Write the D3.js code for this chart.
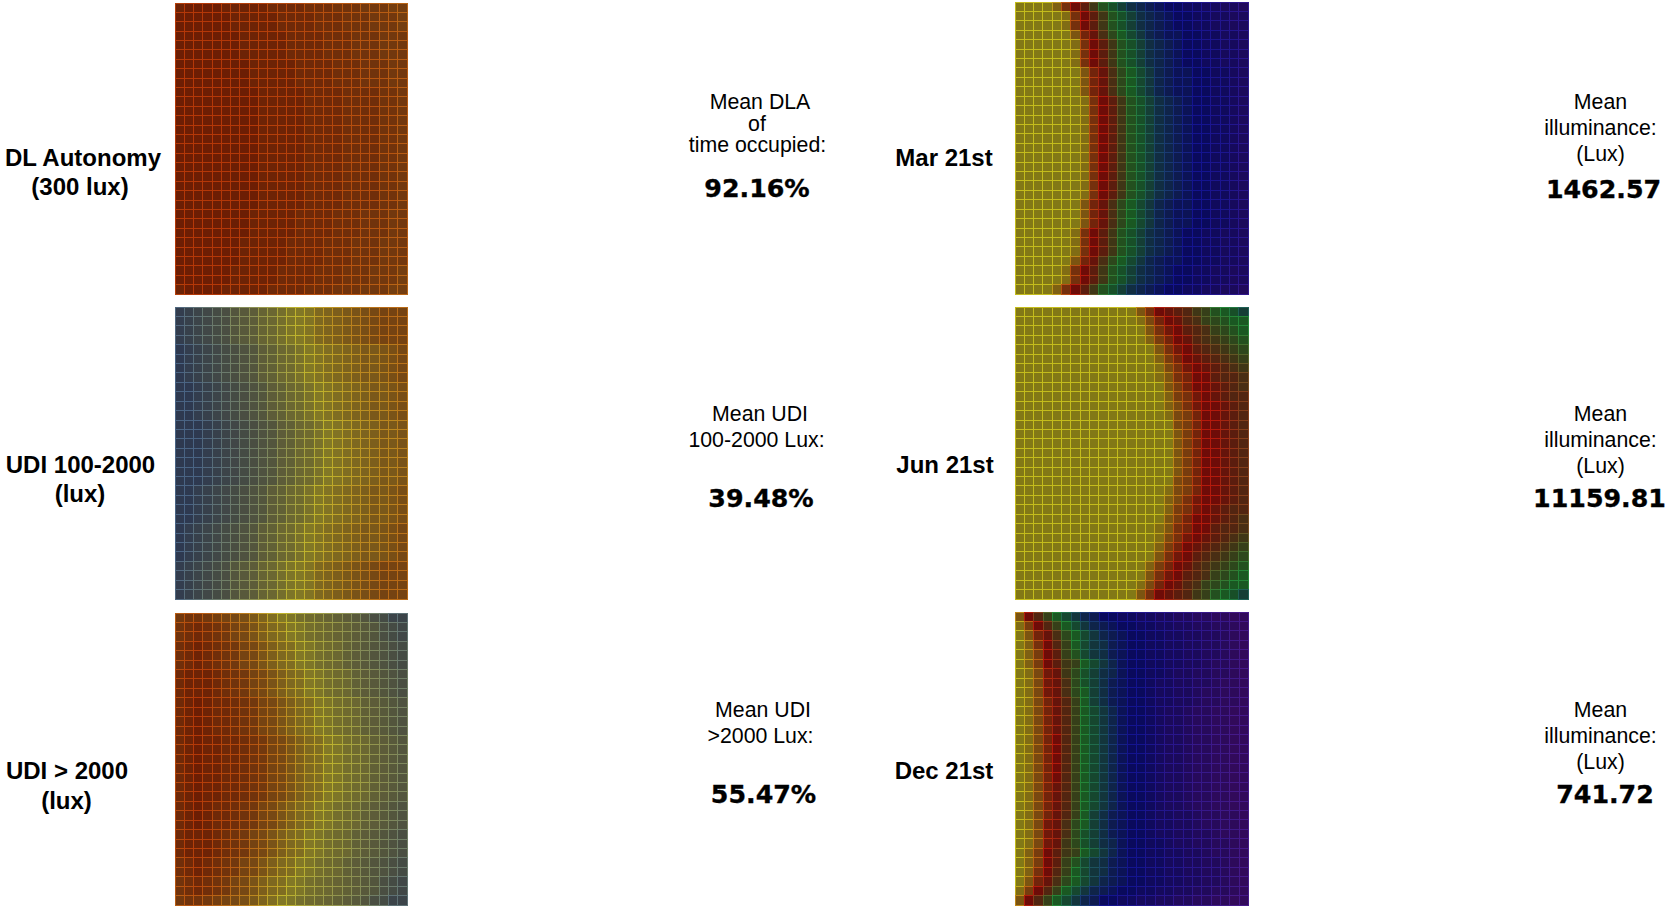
<!DOCTYPE html>
<html><head><meta charset="utf-8">
<script src="https://cdn.jsdelivr.net/npm/d3@7"></script>
<style>html,body{margin:0;padding:0;background:#fff;overflow:hidden}svg{display:block}</style>
</head><body><svg id="c" width="1675" height="906"></svg>
<script>
const dlaAutonomy = [
"yzzzzyyyyyxxxxwwwvvvuuutt","zzzzzzyyyyyxxxxwwwvvvuuut","zzzzzzyyyyyxxxxwwwvvvuuut","zzzzzzzyyyyyxxxxwwwvvvuuu",
"zzzzzzzyyyyyxxxxwwwvvvuuu","zzzzzzzyyyyyxxxxwwwvvvuuu","zzzzzzzzyyyyyxxxxwwwvvvuu","zzzzzzzzyyyyyxxxxwwwvvvuu",
"zzzzzzzzyyyyyxxxxwwwvvvuu","zzzzzzzzzyyyyyxxxxwwwwvvu","zzzzzzzzzyyyyyxxxxwwwwvvu","zzzzzzzzzyyyyyxxxxwwwwvvu",
"zzzzzzzzzyyyyyxxxxwwwwvvu","zzzzzzzzzyyyyyxxxxwwwwvvu","zzzzzzzzzyyyyyxxxxwwwwvvu","zzzzzzzzzyyyyyxxxxwwwwvvu",
"zzzzzzzzzyyyyyxxxxwwwwvvu","zzzzzzzzzyyyyyxxxxwwwwvvu","zzzzzzzzzyyyyyxxxxwwwwvvu","zzzzzzzzzyyyyyxxxxwwwwvvu",
"zzzzzzzzzyyyyyxxxxwwwwvvu","zzzzzzzzzyyyyyxxxxwwwwvvu","zzzzzzzzyyyyyxxxxwwwvvvuu","zzzzzzzzyyyyyxxxxwwwvvvuu",
"zzzzzzzzyyyyyxxxxwwwvvvuu","zzzzzzzyyyyyxxxxwwwvvvuuu","zzzzzzzyyyyyxxxxwwwvvvuuu","zzzzzzzyyyyyxxxxwwwvvvuuu",
"zzzzzzyyyyyxxxxwwwvvvuuut","zzzzzzyyyyyxxxxwwwvvvuuut","yzzzzyyyyyxxxxwwwvvvuuutt"];
const udiMid = [
"12345689acdfhijlmnopqrsss","12345689acdfhijlmnopqrsss","12345689acdfhijlmnopqrsss","12345689acdfhijlmnopqrsss",
"012345678abdegijklmnoopqr","012345678abdegijklmnoopqr","012345678abdegijklmnoopqr","012345678abdegijklmnoopqr",
"0012345678abdegijklmnoopq","0012345678abdegijklmnoopq","0012345678abdegijklmnoopq","0012345678abdegijklmnoopq",
"00012345678abdegijklmnoop","00012345678abdegijklmnoop","00012345678abdegijklmnoop","00012345678abdegijklmnoop",
"00012345678abdegijklmnoop","00012345678abdegijklmnoop","00012345678abdegijklmnoop",
"0012345678abdegijklmnoopq","0012345678abdegijklmnoopq","0012345678abdegijklmnoopq","0012345678abdegijklmnoopq",
"012345678abdegijklmnoopqr","012345678abdegijklmnoopqr","012345678abdegijklmnoopqr","012345678abdegijklmnoopqr",
"12345689acdfhijlmnopqrsss","12345689acdfhijlmnopqrsss","12345689acdfhijlmnopqrsss","12345689acdfhijlmnopqrsss"];
const udiHigh = [
"uvvutsrqomkihfedcba986533","vwxwvusrpnlkihfedcba98654","vwxwvusrpnlkihfedcba98654",
"wxyxwvusrpnlkihfedba98765","wxyxwvusrpnlkihfedba98765","wxyxwvusrpnlkihfedba98765",
"xyyyxwvusrpnlkihfedba9876","xyyyxwvusrpnlkihfedba9876","xyyyxwvusrpnlkihfedba9876",
"xyzyxxwvusrpnlkihfedba987","xyzyxxwvusrpnlkihfedba987","xyzyxxwvusrpnlkihfedba987","xyzyxxwvusrpnlkihfedba987",
"xyzyyxxwvusrpnlkihfedba98","xyzyyxxwvusrpnlkihfedba98","xyzyyxxwvusrpnlkihfedba98","xyzyyxxwvusrpnlkihfedba98",
"xyzyyxxwvusrpnlkihfedba98","xyzyyxxwvusrpnlkihfedba98","xyzyyxxwvusrpnlkihfedba98",
"xyzyxxwvusrpnlkihfedba987","xyzyxxwvusrpnlkihfedba987","xyzyxxwvusrpnlkihfedba987",
"xyyyxwvusrpnlkihfedba9876","xyyyxwvusrpnlkihfedba9876","xyyyxwvusrpnlkihfedba9876",
"wxyxwvusrpnlkihfedba98765","wxyxwvusrpnlkihfedba98765",
"vwxwvusrpnlkihfedcba98654","vwxwvusrpnlkihfedcba98654","uvvutsrqomkihfedcba986533"];
const mar21 = [
"0000269behjlnopqrrssttuuv","00000169behjlnopqrrssttuu","00000169behjlnopqrrssttuu","00000037adgikmopqqrrssttu",
"000000169behjlnopqrrssttu","000000169behjlnopqrrssttu","000000169behjlnopqrrssttu",
"000000037adgikmopqqrrsstu","000000037adgikmopqqrrsstu","000000037adgikmopqqrrsstu",
"0000000169behjlnopqrrsstu","0000000169behjlnopqrrsstu","0000000169behjlnopqrrsstu","0000000169behjlnopqrrsstu",
"0000000169behjlnopqrrsstu","0000000169behjlnopqrrsstu","0000000169behjlnopqrrsstu","0000000169behjlnopqrrsstu",
"0000000169behjlnopqrrsstu","0000000169behjlnopqrrsstu","0000000169behjlnopqrrsstu",
"000000037adgikmopqqrrsstu","000000037adgikmopqqrrsstu","000000037adgikmopqqrrsstu",
"000000169behjlnopqrrssttu","000000169behjlnopqrrssttu","000000169behjlnopqrrssttu",
"00000037adgikmopqqrrssttu","00000169behjlnopqrrssttuu","00000169behjlnopqrrssttuu","0000269behjlnopqrrssttuuv"];
const jun21 = [
"0000000000000369abcefhijl","00000000000001479acdfghii","000000000000003689bcdfghi","000000000000002579acdefgh",
"0000000000000003689bcdefg","0000000000000002579abcdef","00000000000000014689abcde","000000000000000136799bccd",
"000000000000000035799abcd","000000000000000025689abcc","0000000000000000246899abc","0000000000000000145799abc",
"0000000000000000045799abc","0000000000000000035799abc","0000000000000000035799abc","0000000000000000035799abc",
"0000000000000000035799abc","0000000000000000035799abc","0000000000000000045799abc","0000000000000000145799abc",
"0000000000000000246899abc","000000000000000025689abcc","000000000000000035799abcd","000000000000000136799bccd",
"00000000000000014689abcde","0000000000000002579abcdef","0000000000000003689bcdefg","000000000000002579acdefgh",
"000000000000003689bcdfghi","00000000000001479acdfghii","0000000000000369abcefhijl"];
const dec21 = [
"39cfikmoprrssttuuvvwwxxyy","159cfikmopqrrssttuuvvwwxy","037adgikmopqrrssttuuvvwxy","0269cfikmnpqrrssttuuvvwxy",
"0259bfhkmnpqrrssttuuvvwxy","0259befikmoqrrssttuuvwwxy","0148aegjlnoqrrsstuuvvwwxy","0148adgjlnpqrrsttuuvvwxxy",
"0148adgilnpqrrsttuuvwwxxy","0147acfilnpqrrsttuuvwwxxy","0147acfikmoqrrstuuvwwxxyy","0147acfikmoqrrstuuvwwxxyy",
"0147acfikmoqrrstuuvwwxxyy","01479cfikmoqrrstuuvwwxxyy","01479cfikmoqrrstuuvwwxxyy","01479cfikmoqrrstuuvwwxxyy",
"01479cfikmoqrrstuuvwwxxyy","01479cfikmoqrrstuuvwwxxyy","0147acfikmoqrrstuuvwwxxyy","0147acfikmoqrrstuuvwwxxyy",
"0147acfikmoqrrstuuvwwxxyy","0147acfilnpqrrsttuuvwwxxy","0148adgilnpqrrsttuuvwwxxy","0148adgjlnpqrrsttuuvvwxxy",
"0148aegjlnoqrrsstuuvvwwxy","0259befikmoqrrssttuuvwwxy","0259bfhkmnpqrrssttuuvvwxy","0269cfikmnpqrrssttuuvvwxy",
"037adgikmopqrrssttuuvvwxy","159cfikmopqrrssttuuvvwwxy","39cfikmoprrssttuuvvwwxxyy"];

const leftNames = [["DL Autonomy","(300 lux)"],["UDI 100-2000","(lux)"],["UDI > 2000","(lux)"]];
const leftCaptions = [["Mean DLA","of","time occupied:"],["Mean UDI","100-2000 Lux:"],["Mean UDI",">2000 Lux:"]];
const leftMeans = ["92.16%","39.48%","55.47%"];
const dateNames = ["Mar 21st","Jun 21st","Dec 21st"];
const rightCaption = ["Mean","illuminance:","(Lux)"];
const rightMeans = ["1462.57","11159.81","741.72"];

const levelDomainWarm = [0,18,35];
const fillWarm = ["#2e3950","#827826","#6c1e04"];
const lineWarm = ["#4a6484","#c0b42c","#b43808"];
const levelDomainSpec = [0,9,18,27,35];
const fillSpec = ["#827816","#6e0c08","#1a5822","#0a0a5c","#380a5a"];
const lineSpec = ["#c4bc1c","#b41a0c","#248638","#141490","#4c1a88"];

const svg = d3.select("#c");
const scale = (d,r)=>d3.scaleLinear().domain(d).range(r).interpolate(d3.interpolateRgb);
const warm = {fill:scale(levelDomainWarm,fillWarm), line:scale(levelDomainWarm,lineWarm)};
const spec = {fill:scale(levelDomainSpec,fillSpec), line:scale(levelDomainSpec,lineSpec)};

function panel(rows, x0, x1, y0, y1, ramp){
  const nCols = rows[0].length, nRows = rows.length;
  const x = d3.scaleLinear().domain([0,nCols]).range([x0,x1]);
  const y = d3.scaleLinear().domain([0,nRows]).range([y0,y1]);
  const cells = rows.flatMap((row,r)=>Array.from(row,(ch,c)=>({r,c,v:parseInt(ch,36)})));
  const g = svg.append("g").attr("shape-rendering","crispEdges");
  g.selectAll("rect.f").data(cells).join("rect").attr("class","f")
    .attr("x",d=>x(d.c)).attr("y",d=>y(d.r))
    .attr("width",d=>x(d.c+1)-x(d.c)).attr("height",d=>y(d.r+1)-y(d.r))
    .attr("fill",d=>ramp.fill(d.v));
  g.selectAll("rect.l").data(cells).join("rect").attr("class","l")
    .attr("x",d=>x(d.c)).attr("y",d=>y(d.r))
    .attr("width",d=>x(d.c+1)-x(d.c)).attr("height",d=>y(d.r+1)-y(d.r))
    .attr("fill","none").attr("stroke",d=>ramp.line(d.v)).attr("stroke-width",1);
}
const leftRows = [[3,294],[307,599],[613,905]];
const rightRows = [[2,294],[307,599],[612,905]];
const rightEnd = [1248,1248,1248.5];
[dlaAutonomy,udiMid,udiHigh].forEach((m,i)=>panel(m,175,407,leftRows[i][0],leftRows[i][1],warm));
[mar21,jun21,dec21].forEach((m,i)=>panel(m,1015,rightEnd[i],rightRows[i][0],rightRows[i][1],spec));

function text(s,x,y,cls){
  const t = svg.append("text").attr("x",x).attr("y",y).attr("text-anchor","middle").attr("fill","#000").text(s);
  if(cls==="b") t.attr("font-family","'Liberation Sans'").attr("font-weight","700").attr("font-size",24);
  if(cls==="r") t.attr("font-family","'Liberation Sans'").attr("font-size",21.3);
  if(cls==="n") t.attr("font-family","'DejaVu Sans'").attr("font-weight","700").attr("font-size",25.3)
    .attr("stroke","#000").attr("stroke-width",0.35);
}
const nameX = [[83,80],[80.5,80],[67,66.5]];
const nameY = [[166,195],[473,502],[779,809]];
leftNames.forEach((n,i)=>n.forEach((s,j)=>text(s,nameX[i][j],nameY[i][j],"b")));
const capX = [[760,757,757.5],[760,756.5],[763,760.5]];
const capY = [[109,131,152],[420.5,446.5],[717,743]];
leftCaptions.forEach((n,i)=>n.forEach((s,j)=>text(s,capX[i][j],capY[i][j],"r")));
const meanLX = [757,761,763.5], meanY = [197,507,802.5];
leftMeans.forEach((s,i)=>text(s,meanLX[i],meanY[i],"n"));
const dateX = [944,945,944], dateY = [166,473,779];
dateNames.forEach((s,i)=>text(s,dateX[i],dateY[i],"b"));
const rcapY = [[109,135,161],[420.5,446.5,472.5],[717,743,769]];
rcapY.forEach(ys=>rightCaption.forEach((s,j)=>text(s,1600.5,ys[j],"r")));
const meanRX = [1603.5,1599.5,1605];
rightMeans.forEach((s,i)=>text(s,meanRX[i],[197.5,507,803][i],"n"));
</script></body></html>
